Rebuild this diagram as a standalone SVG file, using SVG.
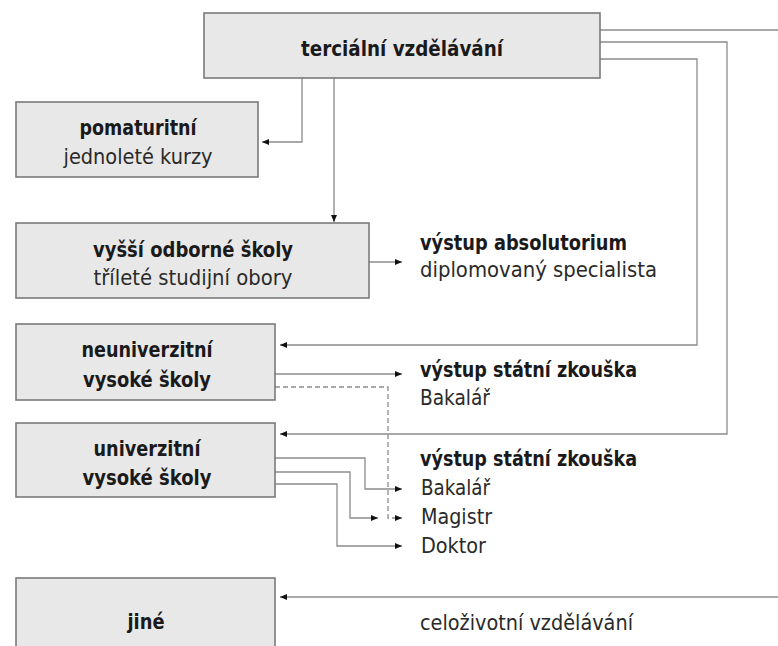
<svg xmlns="http://www.w3.org/2000/svg" width="778" height="646" viewBox="0 0 778 646">
<style>
.box{fill:#e8e8e8;stroke:#7a7a7a;stroke-width:1.6}
.t{font-family:"Liberation Sans Narrow","DejaVu Sans Condensed","Liberation Sans",sans-serif;font-size:21px;fill:#2a2a2a}
.b{font-weight:bold;fill:#1a1a1a}
.c{text-anchor:middle}
.ln{fill:none;stroke:#8c8c8c;stroke-width:1.3}
.ar{marker-end:url(#ah)}
.ds{stroke-dasharray:5,3}
</style>
<defs>
<marker id="ah" markerUnits="userSpaceOnUse" markerWidth="7" markerHeight="6" refX="7" refY="3" orient="auto">
<path d="M0,0 L7,3 L0,6 z" fill="#111"/>
</marker>
</defs>
<rect width="778" height="646" fill="#fff"/>
<g id="connectors">
<path class="ln ar" d="M302,78 V142 H262"/>
<path class="ln ar" d="M334,78 V222"/>
<path class="ln ar" d="M369,262 H402"/>
<path class="ln ar" d="M600,59 H697 V345 H280"/>
<path class="ln ar" d="M600,42 H727 V434 H280"/>
<path class="ln" d="M600,30 H778"/>
<path class="ln ar" d="M778,597 H280"/>
<path class="ln ar" d="M275,374 H402"/>
<path class="ln ds ar" d="M275,387 H388 V518 H402"/>
<path class="ln ar" d="M275,458 H365 V489 H402"/>
<path class="ln ar" d="M275,472 H350 V518 H378"/>
<path class="ln ar" d="M275,484 H337 V546 H402"/>
</g>
<g id="terciarni">
<rect class="box" x="204" y="13" width="396" height="65"/>
<text class="t b c" x="402" y="56" textLength="202" lengthAdjust="spacingAndGlyphs">terciální vzdělávání</text>
</g>
<g id="pomaturitni">
<rect class="box" x="16" y="102" width="242" height="75"/>
<text class="t b c" x="138" y="135" textLength="117" lengthAdjust="spacingAndGlyphs">pomaturitní</text>
<text class="t c" x="138" y="164" textLength="149" lengthAdjust="spacingAndGlyphs">jednoleté kurzy</text>
</g>
<g id="vos">
<rect class="box" x="16" y="223" width="353" height="75"/>
<text class="t b c" x="193" y="257" textLength="200" lengthAdjust="spacingAndGlyphs">vyšší odborné školy</text>
<text class="t c" x="193" y="285" textLength="199" lengthAdjust="spacingAndGlyphs">tříleté studijní obory</text>
</g>
<g id="vos-vystup">
<text class="t b" x="420" y="250" textLength="207" lengthAdjust="spacingAndGlyphs">výstup absolutorium</text>
<text class="t" x="420" y="277" textLength="237" lengthAdjust="spacingAndGlyphs">diplomovaný specialista</text>
</g>
<g id="neuniverzitni">
<rect class="box" x="16" y="324" width="259" height="76"/>
<text class="t b c" x="147" y="357" textLength="131" lengthAdjust="spacingAndGlyphs">neuniverzitní</text>
<text class="t b c" x="147" y="387" textLength="128" lengthAdjust="spacingAndGlyphs">vysoké školy</text>
</g>
<g id="neuniv-vystup">
<text class="t b" x="420" y="377" textLength="217" lengthAdjust="spacingAndGlyphs">výstup státní zkouška</text>
<text class="t" x="420" y="405" textLength="70" lengthAdjust="spacingAndGlyphs">Bakalář</text>
</g>
<g id="univerzitni">
<rect class="box" x="16" y="423" width="259" height="74"/>
<text class="t b c" x="147" y="456" textLength="107" lengthAdjust="spacingAndGlyphs">univerzitní</text>
<text class="t b c" x="147" y="485" textLength="129" lengthAdjust="spacingAndGlyphs">vysoké školy</text>
</g>
<g id="univ-vystup">
<text class="t b" x="420" y="466" textLength="217" lengthAdjust="spacingAndGlyphs">výstup státní zkouška</text>
<text class="t" x="421" y="495" textLength="69" lengthAdjust="spacingAndGlyphs">Bakalář</text>
<text class="t" x="421" y="524" textLength="71" lengthAdjust="spacingAndGlyphs">Magistr</text>
<text class="t" x="421" y="553" textLength="65" lengthAdjust="spacingAndGlyphs">Doktor</text>
</g>
<g id="jine">
<rect class="box" x="16" y="578" width="259" height="80"/>
<text class="t b c" x="146" y="629" textLength="37" lengthAdjust="spacingAndGlyphs">jiné</text>
</g>
<g id="celozivotni">
<text class="t" x="420" y="630" textLength="213" lengthAdjust="spacingAndGlyphs">celoživotní vzdělávání</text>
</g>
</svg>
